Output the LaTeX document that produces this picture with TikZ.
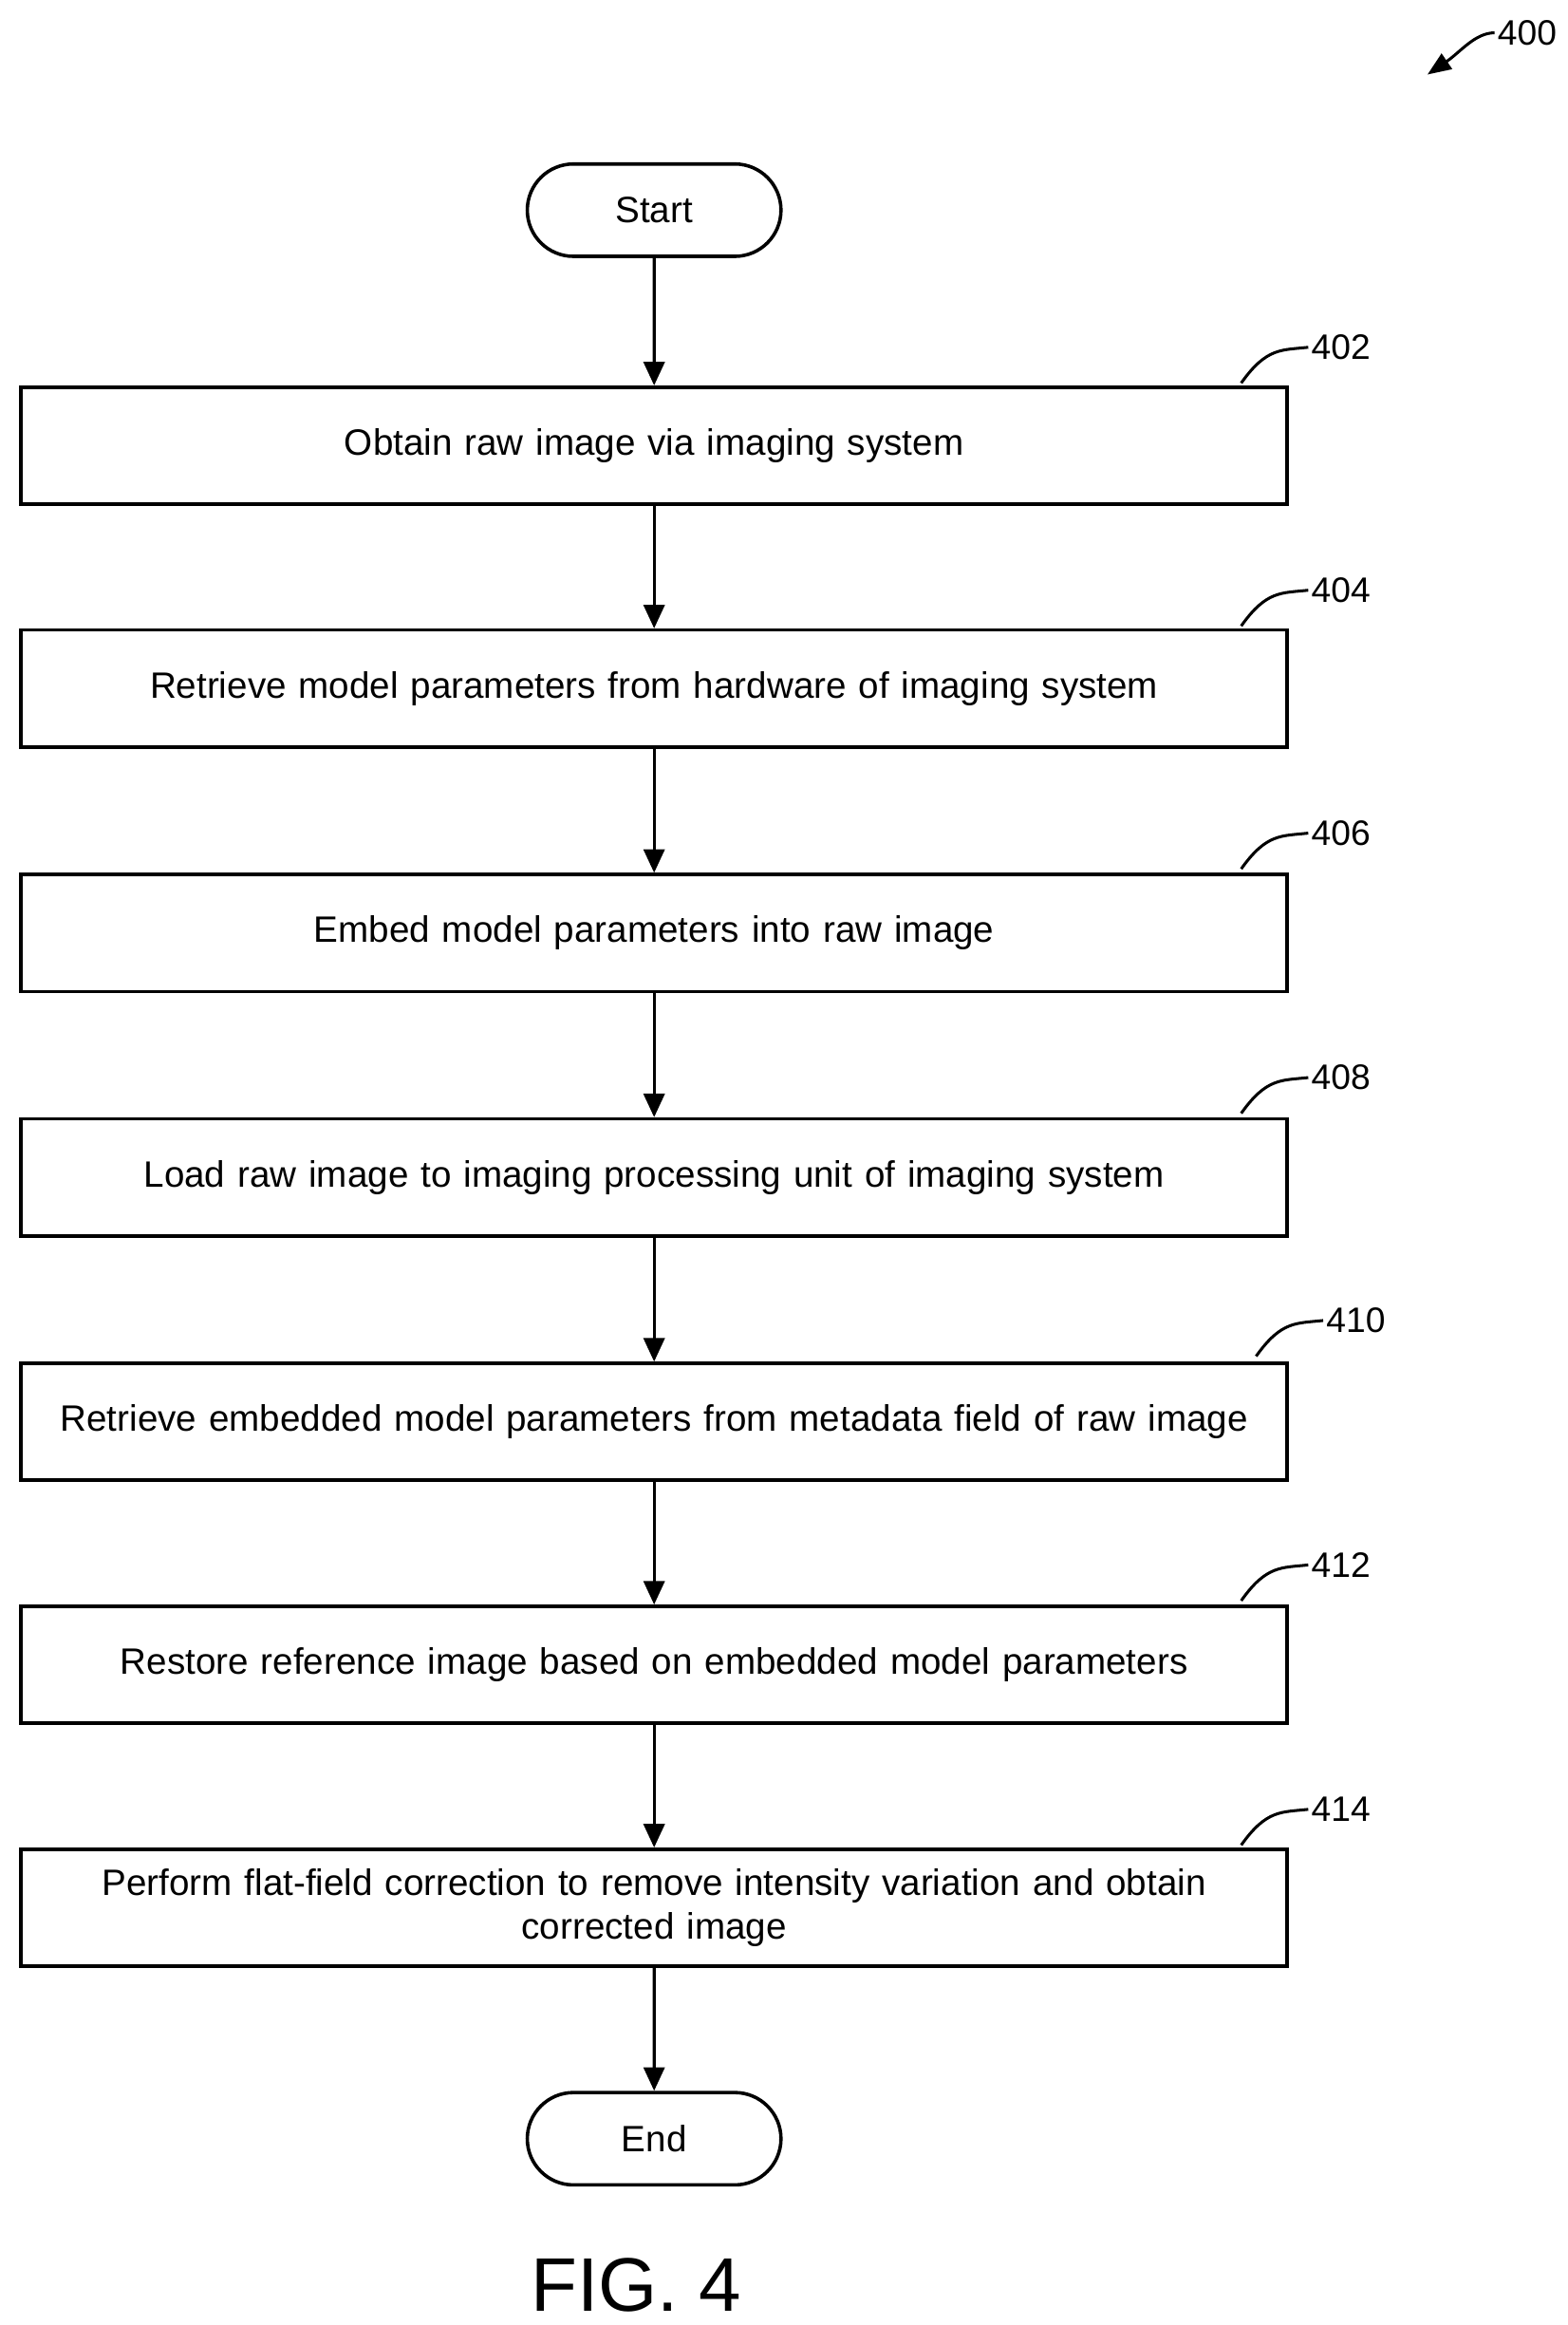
\documentclass[tikz,border=0pt]{standalone}
\usepackage{fontspec}
\setmainfont{Liberation Sans}
\usetikzlibrary{arrows.meta,shapes.misc}
\begin{document}
\begin{tikzpicture}[x=0.02cm,y=-0.02cm,
  box/.style={draw,line width=1.3pt,minimum width=17cm,minimum height=1.57cm,inner sep=2pt,font=\fontsize{14}{17}\selectfont,text width=16.6cm,align=center},
  term/.style={draw,line width=1.3pt,rounded rectangle,minimum width=3.64cm,minimum height=1.24cm,font=\fontsize{14}{17}\selectfont},
  arr/.style={line width=1.2pt,-{Triangle[length=9pt,width=8pt]}},
  lead/.style={line width=1.1pt},
  lbl/.style={font=\fontsize{13.5}{16}\selectfont,anchor=west,inner sep=1pt}]
\useasboundingbox (0,0) rectangle (1052,1560);
\node[term] (start) at (439,141) {Start};
\node[box] (b402) at (439,299) {Obtain raw image via imaging system};
\node[box] (b404) at (439,462) {Retrieve model parameters from hardware of imaging system};
\node[box] (b406) at (439,626) {Embed model parameters into raw image};
\node[box] (b408) at (439,790) {Load raw image to imaging processing unit of imaging system};
\node[box] (b410) at (439,954) {Retrieve embedded model parameters from metadata field of raw image};
\node[box] (b412) at (439,1117) {Restore reference image based on embedded model parameters};
\node[box] (b414) at (439,1280) {Perform flat-field correction to remove intensity variation and obtain\\ corrected image};
\node[term] (end) at (439,1435) {End};
\draw[arr] (start) -- (b402);
\draw[arr] (b402) -- (b404);
\draw[arr] (b404) -- (b406);
\draw[arr] (b406) -- (b408);
\draw[arr] (b408) -- (b410);
\draw[arr] (b410) -- (b412);
\draw[arr] (b412) -- (b414);
\draw[arr] (b414) -- (end);
\foreach \n/\y/\dx in {402/233/0,404/396/0,406/559/0,408/723/0,410/886/10,412/1050/0,414/1214/0}{
  \node[lbl] (l\n) at (878+\dx,\y) {\n};
  \coordinate (s\n) at (833+\dx,\y+24);
  \draw[lead] (s\n) .. controls (850+\dx,\y) and (860+\dx,\y+2) .. (l\n.west);
}
\node[lbl] (l400) at (1003,22) {400};
\coordinate (a400) at (958,50);
\draw[lead,-{Triangle[length=9pt,width=7pt]}] (l400.west) .. controls (990,22) and (980,35) .. (a400);
\node[font=\fontsize{29}{34}\selectfont] (fig) at (427,1533) {FIG. 4};
\end{tikzpicture}
\end{document}
